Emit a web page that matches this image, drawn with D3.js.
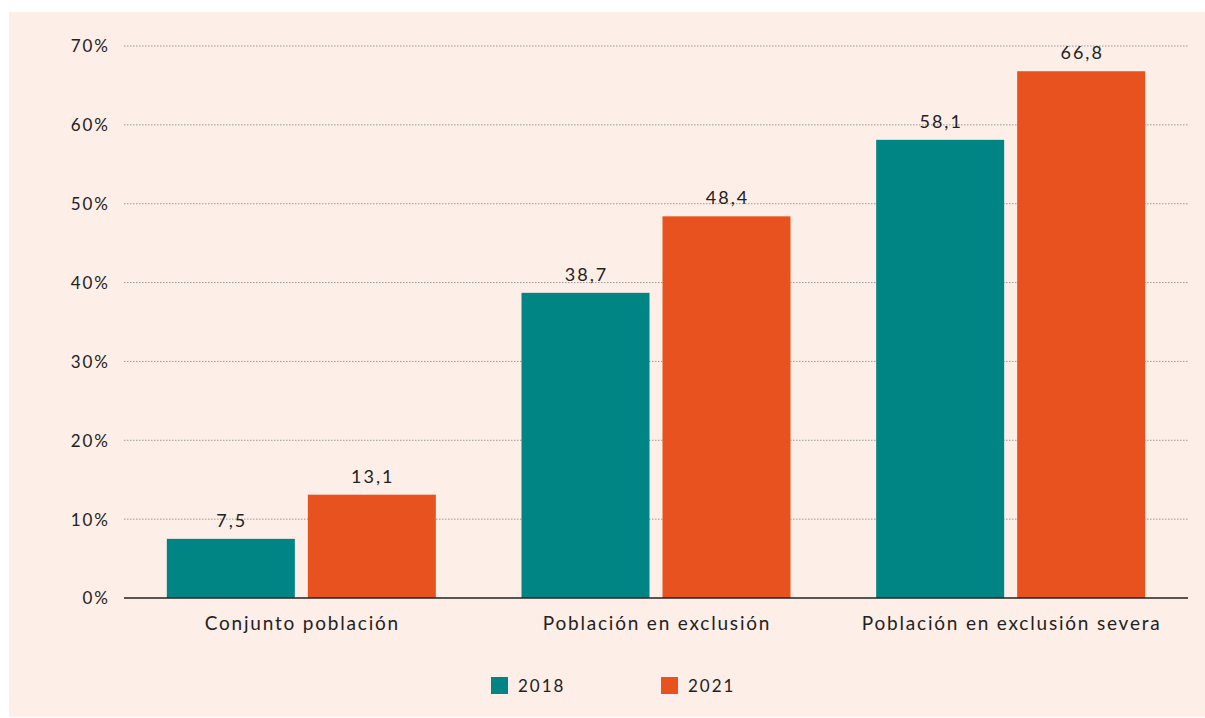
<!DOCTYPE html>
<html>
<head>
<meta charset="utf-8">
<script src="https://cdn.jsdelivr.net/npm/d3@7"></script>
<style>
  body { margin: 0; background: #fff; }
  text { font-family: Lato, "Open Sans", sans-serif; fill: #222; }
</style>
</head>
<body>
<div id="grafico"></div>
<script>
const width = 1205
const height = 718

const categorias = ['Conjunto población', 'Población en exclusión', 'Población en exclusión severa']
const anos = ['2018', '2021']
const valores2018 = [7.5, 38.7, 58.1]
const valores2021 = [13.1, 48.4, 66.8]
const ticks = [0, 10, 20, 30, 40, 50, 60, 70]
const cores = ['#008584', '#e8521f']

const margin = { left: 124, right: 1188, top: 46, bottom: 598 }

const svg = d3.select('#grafico').append('svg')
              .attr('width', width)
              .attr('height', height)

svg.append('rect')
   .attr('x', 9).attr('y', 12)
   .attr('width', width - 9).attr('height', 705)
   .attr('fill', '#fdeee7')

const y = d3.scaleLinear().domain([0, 70]).range([margin.bottom, margin.top])
const x0 = d3.scaleBand().domain(categorias).range([margin.left, margin.right])
const x1 = d3.scaleBand().domain(anos)
             .range([(x0.bandwidth() - 269) / 2, (x0.bandwidth() + 269) / 2])
             .paddingInner(13 / 141)

// grade
svg.append('g')
   .selectAll('line')
   .data(ticks.filter(t => t > 0))
   .enter()
   .append('line')
   .attr('x1', margin.left).attr('x2', margin.right)
   .attr('y1', d => y(d)).attr('y2', d => y(d))
   .attr('stroke', '#999')
   .attr('stroke-width', 1)
   .attr('stroke-dasharray', '1.5,1.5')

// eixo y
const eixoY = svg.append('g')
   .attr('transform', `translate(${margin.left},0)`)
   .call(d3.axisLeft(y).tickValues(ticks).tickFormat(d => d + '%').tickSize(0).tickPadding(14))
eixoY.select('.domain').remove()
eixoY.selectAll('text').style('font-size', '17px').style('letter-spacing', '2px').attr('dy', '0.35em')

const dados = categorias.map((c, i) => ({ categoria: c, valores: [
  { ano: anos[0], valor: valores2018[i] },
  { ano: anos[1], valor: valores2021[i] }
] }))

const grupos = svg.selectAll('.grupo')
                  .data(dados)
                  .enter()
                  .append('g')
                  .attr('transform', d => `translate(${x0(d.categoria)},0)`)

grupos.selectAll('rect')
      .data(d => d.valores)
      .enter()
      .append('rect')
      .attr('x', d => x1(d.ano))
      .attr('y', d => y(d.valor))
      .attr('width', x1.bandwidth())
      .attr('height', d => y(0) - y(d.valor))
      .attr('fill', (d, i) => cores[i])

grupos.selectAll('.rotulo')
      .data(d => d.valores)
      .enter()
      .append('text')
      .attr('x', d => x1(d.ano) + x1.bandwidth() / 2 + 1)
      .attr('y', d => y(d.valor) - 12)
      .attr('text-anchor', 'middle')
      .style('font-size', '18px')
      .style('letter-spacing', '2px')
      .text(d => String(d.valor).replace('.', ','))

// eixo x
svg.append('line')
   .attr('x1', margin.left).attr('x2', margin.right)
   .attr('y1', y(0)).attr('y2', y(0))
   .attr('stroke', '#222').attr('stroke-width', 1.5)

svg.append('g')
   .selectAll('text')
   .data(categorias)
   .enter()
   .append('text')
   .attr('x', d => x0(d) + x0.bandwidth() / 2 + 1)
   .attr('y', 630)
   .attr('text-anchor', 'middle')
   .style('font-size', '19px')
   .style('letter-spacing', '1.8px')
   .text(d => d)

// legenda
const legenda = svg.append('g')
   .selectAll('g')
   .data(anos)
   .enter()
   .append('g')
   .attr('transform', (d, i) => `translate(${491 + i * 170},677)`)
legenda.append('rect')
   .attr('width', 17).attr('height', 17)
   .attr('fill', (d, i) => cores[i])
legenda.append('text')
   .attr('x', 27).attr('y', 15)
   .style('font-size', '17px')
   .style('letter-spacing', '2px')
   .text(d => d)
</script>
</body>
</html>
